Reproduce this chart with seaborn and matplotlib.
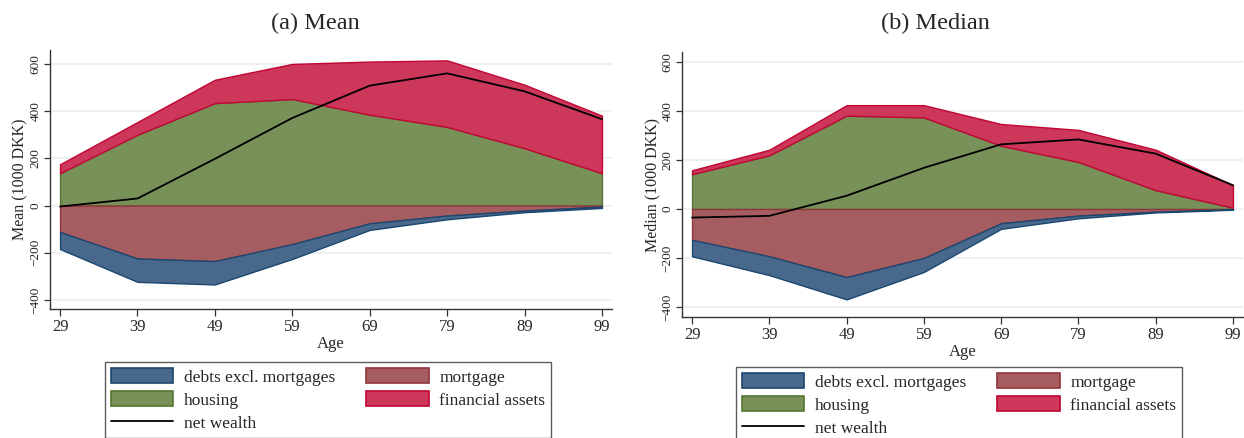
import numpy as np
import pandas as pd
import matplotlib
matplotlib.use("Agg")
import matplotlib.pyplot as plt
from matplotlib.patches import Patch
from matplotlib.lines import Line2D
import seaborn as sns

# Age groups (upper bound of each 10-year bracket)
ages = [29, 39, 49, 59, 69, 79, 89, 99]

# Mean portfolio components, 1000 DKK
mean_housing = [137, 300, 434, 451, 385, 333, 243, 137]
mean_financial = [38, 54, 99, 149, 225, 282, 269, 244]
mean_mortgage = [-112, -224, -235, -163, -75, -42, -21, -4]
mean_debts = [-72, -99, -99, -63, -28, -16, -7, -6]
mean_net = [-4, 30, 198, 371, 508, 560, 484, 366]

# Median portfolio components, 1000 DKK
med_housing = [142, 219, 381, 374, 258, 192, 77, 5]
med_financial = [16, 23, 43, 50, 89, 131, 165, 92]
med_mortgage = [-126, -193, -278, -200, -58, -27, -11, -1]
med_debts = [-67, -77, -91, -57, -23, -11, -3, -2]
med_net = [-35, -28, 54, 168, 264, 284, 226, 97]

panel_titles = ["(a) Mean", "(b) Median"]
ylabels = ["Mean (1000 DKK)", "Median (1000 DKK)"]
legend_labels = ["debts excl. mortgages", "mortgage", "housing",
                 "financial assets", "net wealth"]

sns.set_style("white")
plt.rcParams["font.family"] = ["Liberation Serif", "DejaVu Serif"]

# fill / edge colours
c_debt = ("#48698c", "#1a476f")
c_mort = ("#a65d62", "#90353b")
c_house = ("#779159", "#55752f")
c_fin = ("#cc375a", "#c10534")
grid_col = "#eaf2f3"

fig = plt.figure(figsize=(12.44, 4.38), dpi=100)
ax_l = fig.add_axes([50 / 1244, 1 - 309 / 438, 562 / 1244, 259 / 438])
ax_r = fig.add_axes([682 / 1244, 1 - 317 / 438, 561 / 1244, 265 / 438])

panels = [
    (ax_l, mean_housing, mean_financial, mean_mortgage, mean_debts, mean_net,
     (-438, 659)),
    (ax_r, med_housing, med_financial, med_mortgage, med_debts, med_net,
     (-441, 641)),
]

x = np.array(ages, dtype=float)
for i, (ax, hou, fin, mor, deb, net, ylim) in enumerate(panels):
    hou = np.array(hou, float)
    fin = np.array(fin, float)
    mor = np.array(mor, float)
    deb = np.array(deb, float)

    for yv in [-400, -200, 0, 200, 400, 600]:
        ax.axhline(yv, color=grid_col, lw=1.5, zorder=0)

    ax.fill_between(x, 0, hou, facecolor=c_house[0], edgecolor=c_house[1],
                    lw=1.0, zorder=2)
    ax.fill_between(x, hou, hou + fin, facecolor=c_fin[0], edgecolor=c_fin[1],
                    lw=1.0, zorder=2)
    ax.fill_between(x, 0, mor, facecolor=c_mort[0], edgecolor=c_mort[1],
                    lw=1.0, zorder=2)
    ax.fill_between(x, mor, mor + deb, facecolor=c_debt[0],
                    edgecolor=c_debt[1], lw=1.0, zorder=2)

    df = pd.DataFrame({"age": ages, "net": net})
    sns.lineplot(data=df, x="age", y="net", ax=ax, color="black", lw=1.3,
                 zorder=3)

    ax.set_xlim(27.7, 100.3)
    ax.set_ylim(*ylim)
    ax.set_xticks(ages)
    ax.set_xticklabels([str(a) for a in ages], fontsize=12)
    ax.set_yticks([-400, -200, 0, 200, 400, 600])
    ax.set_yticklabels(["\u2212400", "\u2212200", "0", "200", "400", "600"],
                       fontsize=9.5, rotation=90, va="center")
    ax.tick_params(axis="x", direction="out", length=5, width=0.9,
                   color="#333333", bottom=True, pad=2)
    ax.tick_params(axis="y", direction="out", length=4, width=0.9,
                   color="#333333", left=True, pad=2)
    for s in ["top", "right"]:
        ax.spines[s].set_visible(False)
    for s in ["left", "bottom"]:
        ax.spines[s].set_color("#333333")
        ax.spines[s].set_linewidth(1.0)
    ax.set_xlabel("Age", fontsize=12, labelpad=1)
    ax.set_ylabel(ylabels[i], fontsize=11.5, labelpad=1)
    ax.grid(False)

fig.text(315 / 1244, 1 - 23 / 438, panel_titles[0], fontsize=17.5,
         ha="center", va="center")
fig.text(935 / 1244, 1 - 23 / 438, panel_titles[1], fontsize=17.5,
         ha="center", va="center")

handles = [
    Patch(facecolor=c_debt[0], edgecolor=c_debt[1], lw=1.2),
    Patch(facecolor=c_house[0], edgecolor=c_house[1], lw=1.2),
    Line2D([0], [0], color="black", lw=1.3),
    Patch(facecolor=c_mort[0], edgecolor=c_mort[1], lw=1.2),
    Patch(facecolor=c_fin[0], edgecolor=c_fin[1], lw=1.2),
]
labels = [legend_labels[0], legend_labels[2], legend_labels[4],
          legend_labels[1], legend_labels[3]]

for cx, top in [(328 / 1244, 1 - 362 / 438), (959 / 1244, 1 - 367 / 438)]:
    leg = fig.legend(handles, labels, ncol=2, loc="upper center",
                     bbox_to_anchor=(cx, top), fontsize=12.5,
                     frameon=True, fancybox=False, shadow=False,
                     handlelength=3.6, handleheight=0.95, handletextpad=0.6,
                     columnspacing=1.8, labelspacing=0.32, borderpad=0.35,
                     borderaxespad=0)
    leg.get_frame().set_edgecolor("#333333")
    leg.get_frame().set_linewidth(1.0)

fig.savefig("out.png", dpi=100)
